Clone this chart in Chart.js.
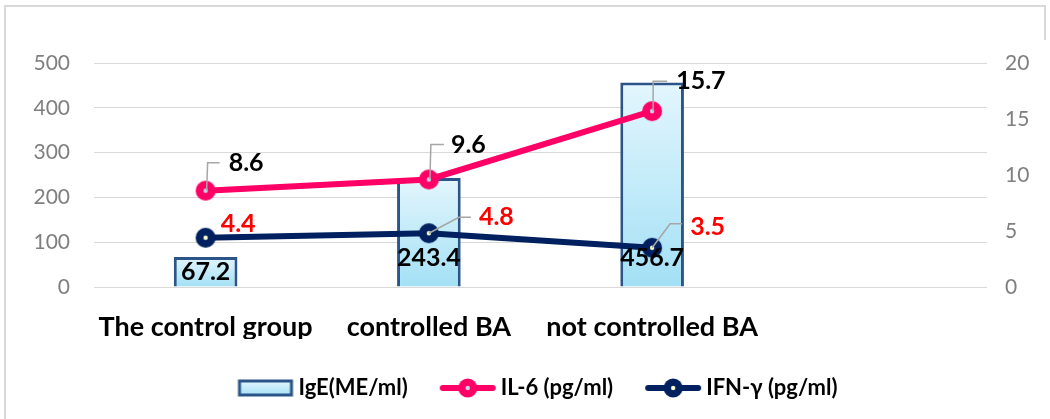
<!DOCTYPE html>
<html>
<head>
<meta charset="utf-8">
<script src="https://cdn.jsdelivr.net/npm/chart.js@4.4.1/dist/chart.umd.min.js"></script>
<style>
  html, body { margin: 0; padding: 0; background: #fff; }
  #wrap { width: 1050px; height: 419px; position: relative; }
</style>
</head>
<body>
<div id="wrap"><canvas id="chart" width="1050" height="419"></canvas></div>
<script>
// Study groups (the fourth slot is left empty on the category axis)
const categories = ['The control group', 'controlled BA', 'not controlled BA', ''];
// Serum IgE, left axis
const igeValues = [67.2, 243.4, 456.7, null];
// Cytokines, right axis
const il6Values = [8.6, 9.6, 15.7, null];
const ifnValues = [4.4, 4.8, 3.5, null];
// Axis ranges / steps
const leftTicks = [0, 100, 200, 300, 400, 500];
const rightTicks = [0, 5, 10, 15, 20];
const seriesNames = ['IgE(ME/ml)', 'IL-6 (pg/ml)', 'IFN-\u03b3 (pg/ml)'];

const FONT = 'Lato, "Open Sans", sans-serif';
const PINK = '#ff0066';
const NAVY = '#002060';

// Placement of the value labels relative to their point: text offset plus leader path
const il6LabelPlacement = [
  { dx: 23, dy: -28, leader: [[1, 0], [2, -28], [14, -28]] },
  { dx: 22, dy: -35, leader: [[1, 0], [2, -35], [15, -35]] },
  { dx: 24, dy: -30, leader: [[1, 0], [1, -30], [15, -30]] }
];
const ifnLabelPlacement = [
  { dx: 15, dy: -14, leader: null },
  { dx: 50, dy: -16, leader: [[0, 0], [30, -16], [42, -16]] },
  { dx: 38, dy: -21, leader: [[0, 0], [18, -24], [30, -24]] }
];

function markerCanvas(fill, dot) {
  const c = document.createElement('canvas');
  c.width = 22; c.height = 22;
  const g = c.getContext('2d');
  g.fillStyle = fill;
  g.beginPath(); g.arc(11, 11, 10, 0, Math.PI * 2); g.fill();
  g.fillStyle = dot;
  g.beginPath(); g.arc(11, 11, 2.2, 0, Math.PI * 2); g.fill();
  return c;
}

function lineLegendCanvas(color, dot) {
  const c = document.createElement('canvas');
  c.width = 58; c.height = 22;
  const g = c.getContext('2d');
  g.strokeStyle = color; g.lineWidth = 6; g.lineCap = 'round';
  g.beginPath(); g.moveTo(4, 11); g.lineTo(54, 11); g.stroke();
  g.fillStyle = color;
  g.beginPath(); g.arc(29, 11, 9.5, 0, Math.PI * 2); g.fill();
  g.fillStyle = dot;
  g.beginPath(); g.arc(29, 11, 2.2, 0, Math.PI * 2); g.fill();
  return c;
}

function barLegendCanvas() {
  const c = document.createElement('canvas');
  c.width = 58; c.height = 22;
  const g = c.getContext('2d');
  const grad = g.createLinearGradient(0, 4, 0, 18);
  grad.addColorStop(0, '#e3f6fd');
  grad.addColorStop(1, '#a6e2f6');
  g.fillStyle = grad;
  g.fillRect(3, 4, 52, 14);
  g.strokeStyle = '#2b5488'; g.lineWidth = 3;
  g.strokeRect(3, 4, 52, 14);
  return c;
}

const pinkMarker = markerCanvas(PINK, '#c6d9f1');
const navyMarker = markerCanvas(NAVY, '#ffffcc');
const legendIcons = [barLegendCanvas(), lineLegendCanvas(PINK, '#c6d9f1'), lineLegendCanvas(NAVY, '#ffffcc')];

function barGradient(ctx) {
  const chart = ctx.chart;
  const v = ctx.raw;
  if (!chart.chartArea || v == null) return '#c8eefb';
  const y = chart.scales.y;
  const top = y.getPixelForValue(v);
  const base = y.getPixelForValue(0);
  if (!isFinite(top) || !isFinite(base)) return '#c8eefb';
  const g = chart.ctx.createLinearGradient(0, top, 0, base);
  g.addColorStop(0, '#e3f6fd');
  g.addColorStop(1, '#a3e0f5');
  return g;
}

// Frame around the chart
const framePlugin = {
  id: 'frame',
  beforeDraw(chart) {
    const c = chart.ctx;
    c.save();
    c.strokeStyle = '#d9d9d9';
    c.lineWidth = 2;
    c.beginPath();
    c.moveTo(5, 419); c.lineTo(5, 6); c.lineTo(1045, 6); c.lineTo(1045, 40);
    c.stroke();
    c.restore();
  }
};

// Value labels for bars and line points
const valueLabelPlugin = {
  id: 'valueLabels',
  afterDatasetsDraw(chart) {
    const c = chart.ctx;
    c.save();
    c.font = 'bold 25px ' + FONT;
    c.textBaseline = 'middle';

    // line labels with leaders
    const lineSets = [
      { idx: 1, values: il6Values, place: il6LabelPlacement, color: '#000000' },
      { idx: 2, values: ifnValues, place: ifnLabelPlacement, color: '#ff0000' }
    ];
    lineSets.forEach(s => {
      const meta = chart.getDatasetMeta(s.idx);
      meta.data.forEach((pt, i) => {
        const v = s.values[i];
        if (v == null) return;
        const p = s.place[i];
        if (p.leader) {
          c.strokeStyle = '#a6a6a6';
          c.lineWidth = 1.5;
          c.beginPath();
          p.leader.forEach(([lx, ly], k) => {
            if (k === 0) c.moveTo(pt.x + lx, pt.y + ly); else c.lineTo(pt.x + lx, pt.y + ly);
          });
          c.stroke();
        }
        c.fillStyle = s.color;
        c.textAlign = 'left';
        c.fillText(v.toFixed(1), pt.x + p.dx, pt.y + p.dy);
      });
    });

    // bar labels near the base
    const barMeta = chart.getDatasetMeta(0);
    c.fillStyle = '#000000';
    c.textAlign = 'center';
    barMeta.data.forEach((bar, i) => {
      const v = igeValues[i];
      if (v == null) return;
      const mid = (bar.y + bar.base) / 2;
      const y = Math.max(mid, bar.base - 29);
      c.fillText(v.toFixed(1), bar.x, y);
    });
    c.restore();
  }
};

new Chart(document.getElementById('chart'), {
  data: {
    labels: categories,
    datasets: [
      {
        type: 'bar',
        label: seriesNames[0],
        data: igeValues,
        yAxisID: 'y',
        backgroundColor: barGradient,
        borderColor: '#2b5488',
        borderWidth: 3,
        categoryPercentage: 1,
        barPercentage: 0.285,
        order: 3
      },
      {
        type: 'line',
        label: seriesNames[1],
        data: il6Values,
        yAxisID: 'y1',
        borderColor: PINK,
        borderWidth: 6,
        pointStyle: pinkMarker,
        pointRadius: 10,
        tension: 0,
        order: 2
      },
      {
        type: 'line',
        label: seriesNames[2],
        data: ifnValues,
        yAxisID: 'y1',
        borderColor: NAVY,
        borderWidth: 6,
        pointStyle: navyMarker,
        pointRadius: 10,
        tension: 0,
        order: 1
      }
    ]
  },
  options: {
    responsive: false,
    animation: false,
    events: [],
    layout: { padding: { top: 63, left: 0, right: 0, bottom: 10 } },
    plugins: {
      tooltip: { enabled: false },
      title: { display: false },
      legend: {
        display: true,
        position: 'bottom',
        fullSize: false,
        labels: {
          usePointStyle: true,
          pointStyleWidth: 44,
          padding: 38,
          color: '#000000',
          font: { family: FONT, size: 22, weight: 'bold' },
          generateLabels(chart) {
            return chart.data.datasets.map((ds, i) => ({
              text: ds.label,
              pointStyle: legendIcons[i],
              fillStyle: 'transparent',
              strokeStyle: 'transparent',
              lineWidth: 0,
              fontColor: '#000000',
              hidden: false,
              datasetIndex: i
            }));
          }
        }
      }
    },
    scales: {
      x: {
        offset: true,
        grid: { display: false, drawTicks: false },
        border: { display: false },
        ticks: {
          color: '#000000',
          padding: 24,
          maxRotation: 0,
          autoSkip: false,
          font: { family: FONT, size: 27, weight: 'bold' }
        },
        afterFit(scale) { scale.height = 52; }
      },
      y: {
        position: 'left',
        min: leftTicks[0],
        max: leftTicks[leftTicks.length - 1],
        afterBuildTicks(scale) { scale.ticks = leftTicks.map(v => ({ value: v })); },
        grid: { color: '#d9d9d9', lineWidth: 1, drawTicks: false },
        border: { display: false },
        ticks: { color: '#7f7f7f', padding: 24, font: { family: FONT, size: 21 } },
        afterFit(scale) { scale.width = 94; }
      },
      y1: {
        position: 'right',
        min: rightTicks[0],
        max: rightTicks[rightTicks.length - 1],
        afterBuildTicks(scale) { scale.ticks = rightTicks.map(v => ({ value: v })); },
        grid: { drawOnChartArea: false, drawTicks: false },
        border: { display: false },
        ticks: { color: '#7f7f7f', padding: 18, font: { family: FONT, size: 21 } },
        afterFit(scale) { scale.width = 63; }
      }
    }
  },
  plugins: [framePlugin, valueLabelPlugin]
});
</script>
</body>
</html>
